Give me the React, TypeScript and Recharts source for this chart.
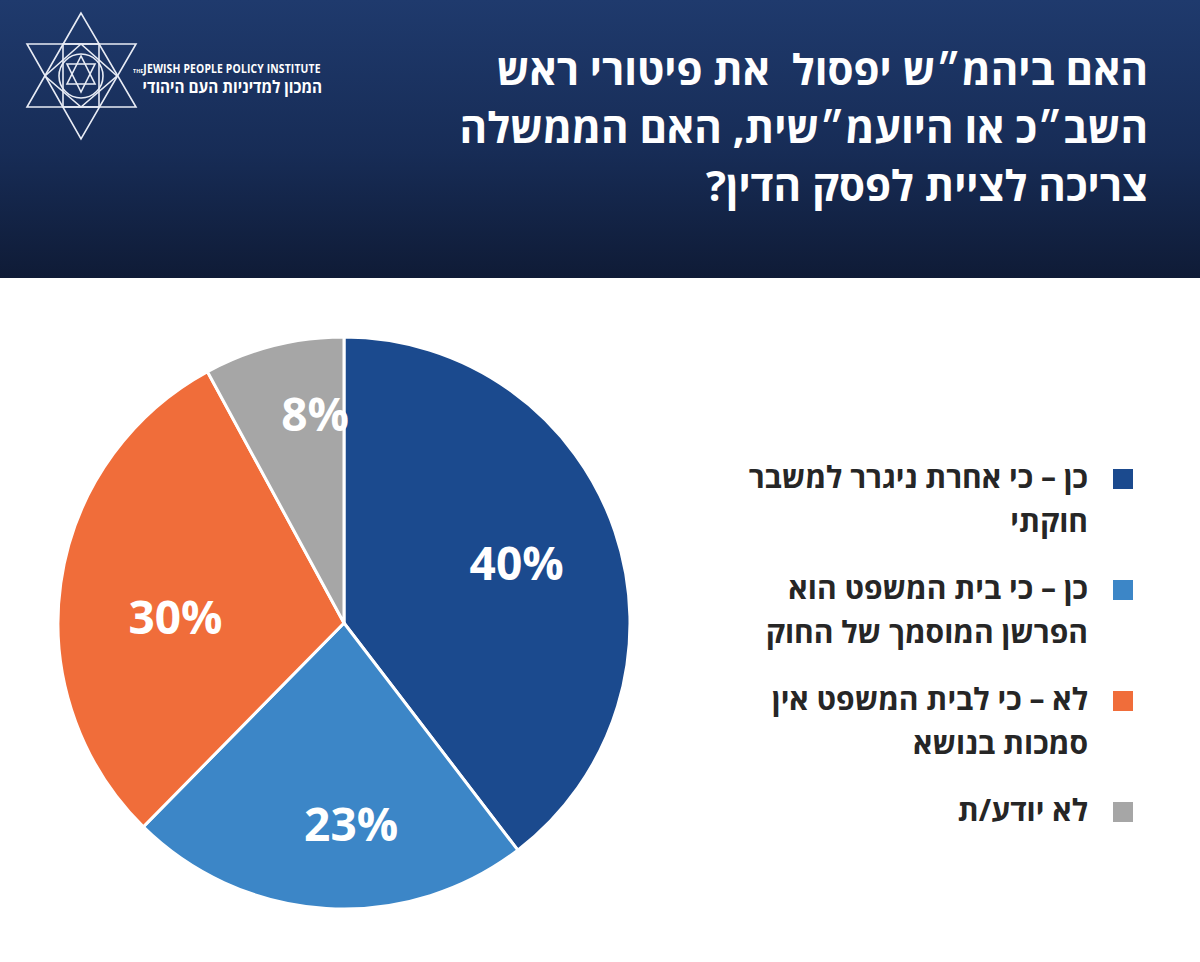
import React from "react";
import { Cell, Legend, Pie, PieChart } from "recharts";

const answers = [
  "כן – כי אחרת ניגרר למשבר חוקתי",
  "כן – כי בית המשפט הוא הפרשן המוסמך של החוק",
  "לא – כי לבית המשפט אין סמכות בנושא",
  "לא יודע/ת"
];
const shares = [40, 23, 30, 8];
const sliceColors = ["#1b4a8e", "#3c86c7", "#f06d3a", "#a6a6a6"];

const titleLines = [
  "האם ביהמ״ש יפסול  את פיטורי ראש",
  "השב״כ או היועמ״שית, האם הממשלה",
  "צריכה לציית לפסק הדין?"
];

const pieData = answers.map((name, i) => ({ name, value: shares[i], color: sliceColors[i] }));

const FONT = '"Open Sans", "Liberation Sans", "DejaVu Sans", sans-serif';
const RADIAN = Math.PI / 180;
// label placement inside each slice (radius factor, angle nudge in degrees)
const labelRadius = [0.64, 0.7, 0.59, 0.74];
const labelNudge = [0.7, 5.6, 5.6, -6.4];

function renderLabel(props: any) {
  const { cx, cy, midAngle, outerRadius, index, value } = props;
  const r = outerRadius * labelRadius[index];
  const a = (midAngle + labelNudge[index]) * RADIAN;
  const x = cx + r * Math.cos(-a);
  const y = cy + r * Math.sin(-a);
  return (
    <text
      x={x}
      y={y}
      fill="#ffffff"
      fontFamily={FONT}
      fontSize={46}
      fontWeight={700}
      textAnchor="middle"
      dominantBaseline="central"
    >
      {value}%
    </text>
  );
}

function LegendList() {
  return (
    <div style={{ direction: "rtl", fontFamily: FONT }}>
      {pieData.map((d) => (
        <div key={d.name} style={{ display: "flex", alignItems: "flex-start", marginBottom: 23 }}>
          <span
            style={{
              width: 20,
              height: 20,
              background: d.color,
              marginTop: 14,
              marginLeft: 25,
              flex: "none"
            }}
          />
          <span
            style={{
              width: 360,
              fontSize: 30,
              fontWeight: 700,
              lineHeight: "44px",
              color: "#262626"
            }}
          >
            {d.name}
          </span>
        </div>
      ))}
    </div>
  );
}

function Logo() {
  return (
    <div style={{ position: "absolute", left: 24, top: 10 }}>
      <svg width={120} height={132} viewBox="24 10 120 132">
        <g fill="none" stroke="#e8ecf5" strokeWidth={1.6}>
          <polygon points="81,13 27,107 136,107" />
          <polygon points="27,44 136,44 81,139" />
          <rect x={63} y={44} width={36} height={63} />
          <polygon points="45,76 81,44 117,76 81,107" />
          <polygon points="81,56 67,84 95,84" />
          <polygon points="67,64 95,64 81,92" />
          <circle cx={81} cy={76} r={22} />
        </g>
      </svg>
      <div
        style={{
          position: "absolute",
          left: 109,
          top: 50,
          width: 200,
          color: "#ffffff",
          fontFamily: FONT,
          fontWeight: 700,
          whiteSpace: "nowrap"
        }}
      >
        <div style={{ fontSize: 12, letterSpacing: 0.2, transform: "scaleX(0.86)", transformOrigin: "left" }}>
          <span style={{ fontSize: 6 }}>THE</span>JEWISH PEOPLE POLICY INSTITUTE
        </div>
        <div
          style={{
            fontSize: 17,
            direction: "rtl",
            lineHeight: "20px",
            transform: "scaleX(0.9)",
            transformOrigin: "left",
            width: 210
          }}
        >
          המכון למדיניות העם היהודי
        </div>
      </div>
    </div>
  );
}

export default function App() {
  return (
    <div
      style={{
        position: "absolute",
        left: 0,
        top: 0,
        width: 1200,
        height: 962,
        background: "#ffffff",
        overflow: "hidden"
      }}
    >
      <div
        style={{
          position: "absolute",
          left: 0,
          top: 0,
          width: 1200,
          height: 278,
          background: "linear-gradient(180deg, #1f3a6d 0%, #172c56 55%, #0f1b36 100%)"
        }}
      >
        <Logo />
        <div
          style={{
            position: "absolute",
            right: 52,
            top: 40,
            direction: "rtl",
            textAlign: "right",
            color: "#ffffff",
            fontFamily: FONT,
            fontWeight: 700,
            fontSize: 42,
            lineHeight: "58px",
            whiteSpace: "pre"
          }}
        >
          {titleLines.map((line) => (
            <div key={line}>{line}</div>
          ))}
        </div>
      </div>
      <div style={{ position: "absolute", left: 0, top: 278 }}>
        <PieChart width={1200} height={684} margin={{ top: 0, right: 0, bottom: 0, left: 0 }}>
          <Pie
            data={pieData}
            dataKey="value"
            nameKey="name"
            cx={344}
            cy={345}
            outerRadius={286}
            startAngle={90}
            endAngle={-270}
            stroke="#ffffff"
            strokeWidth={3}
            label={renderLabel}
            labelLine={false}
            isAnimationActive={false}
          >
            {pieData.map((d) => (
              <Cell key={d.name} fill={d.color} />
            ))}
          </Pie>
          <Legend
            content={() => <LegendList />}
            wrapperStyle={{ position: "absolute", left: 660, top: 177, width: 473 }}
          />
        </PieChart>
      </div>
    </div>
  );
}
